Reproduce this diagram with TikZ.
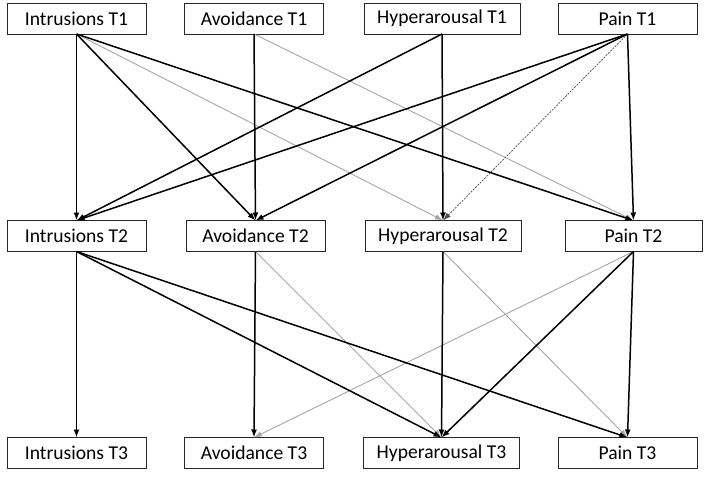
\documentclass[tikz,border=0pt]{standalone}
\usepackage{fontspec}
\setmainfont{Carlito}
\usetikzlibrary{arrows.meta}
\tikzset{
  box/.style={draw=black!85, line width=0.9pt, rectangle, minimum width=139pt,
    minimum height=31pt, inner sep=0pt, outer sep=0pt,
    font=\fontsize{19.6}{22}\selectfont},
  widebox/.style={box, minimum width=156pt},
  strong/.style={line width=1.5pt, -{Latex[length=8pt,width=6pt]}},
  weak/.style={draw=black!35, line width=0.9pt, -{Latex[length=8pt,width=5.5pt]}},
  nonsig/.style={draw=black!70, line width=0.7pt, dash pattern=on 2pt off 1.2pt,
    -{Latex[length=8pt,width=5.5pt]}}
}
\begin{document}
\begin{tikzpicture}[x=1pt,y=-1pt]
      \useasboundingbox (0,0) rectangle (708,476);
      \draw
        (76.5,18.5) node[box] (i1){Intrusions T1}
        (254,18.5) node[box] (a1){Avoidance T1}
        (442,18.5) node[widebox] (h1){Hyperarousal T1}
        (627.5,18.5) node[box] (p1){Pain T1}
        (76.5,236) node[box] (i2){Intrusions T2}
        (255.5,236) node[box] (a2){Avoidance T2}
        (443,236) node[widebox] (h2){Hyperarousal T2}
        (633.5,236) node[box, minimum width=137pt] (p2){Pain T2}
        (76.5,453) node[box] (i3){Intrusions T3}
        (254,453) node[box] (a3){Avoidance T3}
        (441.5,453) node[widebox] (h3){Hyperarousal T3}
        (627.5,453) node[box] (p3){Pain T3};
      % T1 -> T2
      \begin{scope}[weak]
        \draw (i1.south) to (h2.north);
        \draw (a1.south) to (p2.north);
      \end{scope}
      \draw[nonsig] (p1.south) to (h2.north);
      \begin{scope}[strong]
        \draw (i1.south) to (i2.north);
        \draw (i1.south) to (a2.north);
        \draw (i1.south) to (p2.north);
        \draw (a1.south) to (a2.north);
        \draw (h1.south) to (i2.north);
        \draw (h1.south) to (h2.north);
        \draw (p1.south) to (i2.north);
        \draw (p1.south) to (a2.north);
        \draw (p1.south) to (p2.north);
      \end{scope}
      % T2 -> T3
      \begin{scope}[weak]
        \draw (a2.south) to (h3.north);
        \draw (h2.south) to (p3.north);
        \draw (p2.south) to (a3.north);
      \end{scope}
      \begin{scope}[strong]
        \draw (i2.south) to (i3.north);
        \draw (i2.south) to (h3.north);
        \draw (i2.south) to (p3.north);
        \draw (a2.south) to (a3.north);
        \draw (h2.south) to (h3.north);
        \draw (p2.south) to (h3.north);
        \draw (p2.south) to (p3.north);
      \end{scope}
    \end{tikzpicture}
\end{document}
